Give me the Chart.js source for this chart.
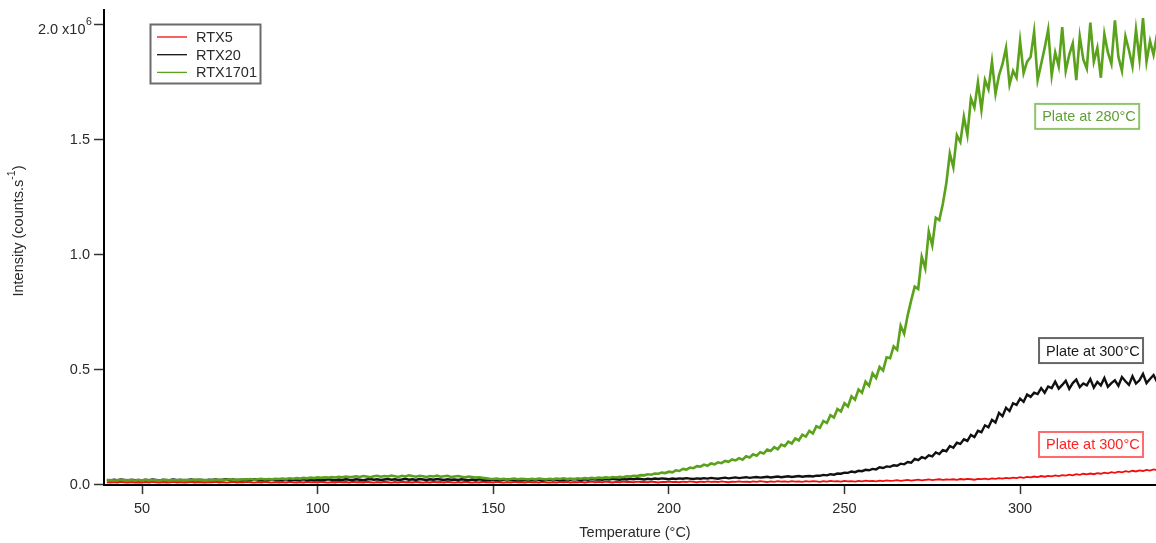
<!DOCTYPE html>
<html>
<head>
<meta charset="utf-8">
<title>Intensity vs temperature</title>
<script src="https://cdn.jsdelivr.net/npm/chart.js@4/dist/chart.umd.min.js"></script>
<style>
  html, body { margin: 0; padding: 0; background: #fff; }
  #wrap { width: 1156px; height: 543px; }
</style>
</head>
<body>
<div id="wrap"><canvas id="tempChart" width="1156" height="543"></canvas></div>
<script>
// === DATA ===
// intensity in 10^6 counts/s, one reading per °C starting at 40 °C
const T_START = 40;
const T_STEP = 1;
const seriesNames = ['RTX5', 'RTX20', 'RTX1701'];

const rtx5 = [
  .008,.006,.009,.007,.010,.008,.006,.009,.007,.008,
  .006,.009,.007,.010,.008,.006,.009,.007,.008,.010,
  .007,.009,.006,.008,.010,.007,.009,.008,.006,.009,
  .008,.010,.007,.009,.006,.008,.010,.007,.009,.008,
  .010,.008,.006,.009,.007,.010,.008,.006,.009,.007,
  .009,.007,.010,.008,.006,.009,.007,.010,.008,.009,
  .007,.010,.008,.006,.009,.007,.010,.008,.009,.007,
  .010,.008,.009,.007,.010,.008,.006,.009,.007,.010,
  .008,.006,.009,.007,.010,.008,.009,.007,.010,.008,
  .006,.009,.007,.010,.008,.009,.007,.010,.008,.006,
  .009,.007,.010,.008,.006,.009,.007,.010,.008,.009,
  .007,.010,.008,.006,.009,.007,.010,.008,.009,.007,
  .010,.008,.009,.007,.010,.008,.006,.009,.007,.010,
  .008,.010,.007,.009,.008,.010,.007,.009,.011,.008,
  .010,.008,.011,.009,.007,.010,.008,.011,.009,.010,
  .008,.011,.009,.010,.008,.011,.009,.007,.010,.009,
  .011,.009,.010,.008,.011,.009,.012,.010,.008,.011,
  .009,.012,.010,.011,.009,.012,.010,.008,.011,.010,
  .012,.010,.011,.009,.012,.010,.013,.011,.009,.012,
  .010,.013,.011,.012,.010,.013,.011,.012,.010,.013,
  .011,.013,.012,.010,.013,.011,.014,.012,.013,.011,
  .014,.012,.013,.011,.014,.012,.015,.013,.014,.012,
  .015,.013,.016,.014,.015,.017,.014,.016,.018,.015,
  .017,.019,.016,.018,.020,.017,.019,.021,.018,.020,
  .019,.021,.018,.022,.020,.023,.021,.019,.023,.022,
  .024,.021,.025,.023,.026,.024,.027,.025,.028,.026,
  .030,.027,.031,.029,.033,.030,.035,.032,.036,.034,
  .038,.035,.039,.037,.041,.038,.043,.040,.045,.042,
  .046,.043,.048,.045,.050,.047,.052,.049,.054,.051,
  .056,.053,.058,.055,.060,.057,.062,.059,.064,.061
];

const rtx20 = [
  .018,.016,.019,.017,.020,.018,.016,.019,.017,.018,
  .016,.019,.017,.020,.018,.016,.019,.017,.018,.020,
  .017,.019,.016,.018,.020,.017,.019,.018,.016,.019,
  .018,.020,.017,.019,.021,.018,.020,.017,.019,.018,
  .020,.018,.021,.019,.017,.020,.018,.021,.019,.017,
  .019,.021,.018,.020,.017,.019,.021,.018,.020,.019,
  .017,.020,.018,.021,.019,.017,.020,.018,.021,.019,
  .018,.021,.019,.017,.020,.022,.019,.021,.018,.020,
  .022,.019,.021,.018,.020,.023,.019,.021,.018,.022,
  .020,.018,.021,.019,.022,.020,.018,.021,.019,.020,
  .018,.021,.019,.017,.020,.018,.021,.019,.017,.020,
  .018,.020,.017,.019,.021,.018,.020,.017,.019,.018,
  .020,.018,.021,.019,.017,.020,.018,.021,.019,.020,
  .018,.021,.019,.022,.020,.018,.021,.019,.022,.020,
  .021,.019,.022,.020,.023,.021,.019,.022,.020,.023,
  .021,.024,.022,.020,.023,.021,.024,.022,.025,.023,
  .021,.024,.022,.025,.023,.026,.024,.022,.025,.023,
  .026,.024,.027,.025,.023,.026,.028,.025,.027,.029,
  .026,.028,.030,.027,.029,.031,.028,.030,.032,.029,
  .031,.033,.030,.032,.034,.031,.033,.035,.032,.034,
  .035,.033,.037,.036,.040,.038,.043,.041,.046,.045,
  .050,.049,.055,.052,.058,.056,.062,.060,.066,.064,
  .073,.070,.077,.075,.082,.080,.089,.086,.096,.093,
  .110,.104,.117,.112,.125,.121,.138,.131,.148,.143,
  .166,.158,.180,.175,.195,.188,.214,.205,.232,.226,
  .256,.247,.280,.268,.310,.296,.332,.318,.352,.345,
  .372,.358,.390,.380,.398,.392,.418,.398,.425,.418,
  .446,.416,.432,.450,.415,.440,.455,.422,.438,.430,
  .458,.420,.445,.430,.462,.424,.440,.452,.428,.466,
  .448,.432,.470,.438,.452,.480,.440,.458,.475,.445
];

const rtx1701 = [
  .016,.018,.015,.017,.019,.016,.018,.017,.015,.018,
  .017,.019,.016,.018,.017,.015,.018,.019,.016,.017,
  .018,.016,.019,.017,.018,.020,.017,.019,.018,.016,
  .019,.018,.020,.017,.019,.021,.018,.020,.019,.021,
  .020,.022,.019,.021,.023,.020,.022,.021,.023,.022,
  .024,.022,.025,.023,.026,.024,.027,.025,.028,.026,
  .029,.027,.030,.028,.031,.029,.032,.030,.033,.031,
  .032,.034,.031,.035,.033,.030,.034,.036,.032,.035,
  .033,.037,.034,.031,.036,.033,.038,.035,.032,.036,
  .034,.031,.035,.033,.037,.032,.034,.036,.031,.033,
  .035,.032,.030,.033,.031,.029,.030,.027,.025,.023,
  .022,.024,.021,.023,.020,.022,.024,.021,.023,.022,
  .020,.023,.021,.024,.022,.020,.023,.021,.024,.022,
  .025,.022,.024,.021,.025,.023,.026,.024,.027,.025,
  .028,.026,.029,.027,.031,.029,.032,.030,.034,.033,
  .036,.035,.039,.038,.043,.041,.046,.045,.050,.048,
  .054,.051,.060,.057,.066,.063,.072,.069,.078,.076,
  .085,.080,.090,.086,.095,.091,.101,.097,.107,.103,
  .113,.106,.121,.116,.130,.124,.139,.133,.150,.144,
  .161,.152,.172,.165,.185,.177,.199,.190,.215,.207,
  .232,.220,.252,.245,.275,.266,.300,.290,.327,.316,
  .352,.338,.382,.368,.412,.398,.446,.428,.482,.462,
  .510,.495,.552,.548,.600,.585,.690,.655,.735,.800,
  .860,.850,.990,.940,1.10,1.04,1.16,1.15,1.22,1.31,
  1.44,1.38,1.52,1.49,1.60,1.52,1.68,1.64,1.75,1.63,
  1.76,1.72,1.84,1.70,1.78,1.83,1.90,1.74,1.80,1.77,
  1.93,1.79,1.84,1.86,1.97,1.76,1.83,1.90,1.98,1.78,
  1.88,1.82,1.99,1.80,1.87,1.92,1.76,1.95,1.85,1.81,
  2.01,1.84,1.90,1.77,1.96,1.88,1.83,2.02,1.86,1.80,
  1.95,1.89,1.82,1.98,1.85,2.03,1.84,1.93,1.87,1.96
];

const xTickValues = [50, 100, 150, 200, 250, 300];
const yTickValues = [0, 0.5, 1.0, 1.5, 2.0];
const yTickLabels = ['0.0', '0.5', '1.0', '1.5', '2.0 x10^6'];   // ^ marks a superscript
const plateNotes = ['Plate at 280°C', 'Plate at 300°C', 'Plate at 300°C'];

// === STYLE ===
const FONT = '"Liberation Sans", Arial, sans-serif';
const TXT = '#2a2a2a';
const lineColors = ['#f20d0d', '#111111', '#5aa21c'];
const lineWidths = [1.8, 2.4, 2.6];
// label boxes: top-left corner in data units (°C, 10^6 counts/s), one per note
const noteStyle = [
  { at: [304.3, 1.656], text: '#5e9f38', border: '#8fc46d' },
  { at: [305.4, 0.636], text: '#1a1a1a', border: '#666666' },
  { at: [305.4, 0.227], text: '#ff2323', border: '#ff6a6a' }
];

// turn a value list into {x,y} points on the temperature axis
function toPoints(values) {
  return values.map((v, i) => ({ x: T_START + i * T_STEP, y: v }));
}

const seriesValues = [rtx5, rtx20, rtx1701];

// === OVERLAY: y tick labels, axis titles, legend box, plate labels ===
const overlayPlugin = {
  id: 'overlay',
  afterDraw(chart) {
    const ctx = chart.ctx;
    const area = chart.chartArea;
    const xs = chart.scales.x, ys = chart.scales.y;
    const big = '14.5px ' + FONT, small = '10.5px ' + FONT;
    ctx.save();
    ctx.font = big;
    ctx.fillStyle = TXT;
    ctx.textBaseline = 'middle';

    // y tick labels (with superscript exponent on the top one)
    ctx.textAlign = 'right';
    yTickValues.forEach((v, i) => {
      const py = ys.getPixelForValue(v);
      const [base, exp] = yTickLabels[i].split('^');
      if (exp) {
        ctx.font = small;
        ctx.textAlign = 'left';
        ctx.fillText(exp, 86, py - 3);
        ctx.font = big;
        ctx.textAlign = 'right';
        ctx.fillText(base, 85.5, py + 5);
      } else {
        ctx.fillText(base, 90, py + 0.5);
      }
    });

    // axis titles
    ctx.textAlign = 'center';
    ctx.fillText('Temperature (°C)', (area.left + area.right) / 2 + 5, 533);
    ctx.save();
    ctx.translate(19, 231);
    ctx.rotate(-Math.PI / 2);
    const parts = ['Intensity (counts.s', '-1', ')'];
    ctx.font = big;
    const w0 = ctx.measureText(parts[0]).width, w2 = ctx.measureText(parts[2]).width;
    ctx.font = small;
    const w1 = ctx.measureText(parts[1]).width;
    let cx = -(w0 + w1 + w2) / 2;
    ctx.textAlign = 'left';
    ctx.font = big;
    ctx.fillText(parts[0], cx, 0);
    ctx.font = small;
    ctx.fillText(parts[1], cx + w0, -7);
    ctx.font = big;
    ctx.fillText(parts[2], cx + w0 + w1, 0);
    ctx.restore();

    // legend
    ctx.textAlign = 'left';
    ctx.fillStyle = '#fff';
    ctx.fillRect(150.5, 24.5, 110, 59);
    ctx.strokeStyle = '#6b6b6b';
    ctx.lineWidth = 2;
    ctx.strokeRect(150.5, 24.5, 110, 59);
    seriesNames.forEach((name, i) => {
      const yy = 37 + i * 17.7;
      ctx.strokeStyle = lineColors[i];
      ctx.lineWidth = 1.3;
      ctx.beginPath();
      ctx.moveTo(157, yy);
      ctx.lineTo(187, yy);
      ctx.stroke();
      ctx.fillStyle = TXT;
      ctx.fillText(name, 196, yy + 1);
    });

    // plate labels
    plateNotes.forEach((txt, i) => {
      const st = noteStyle[i];
      const left = xs.getPixelForValue(st.at[0]);
      const top = ys.getPixelForValue(st.at[1]);
      const w = 104, h = 25;
      ctx.fillStyle = '#fff';
      ctx.fillRect(left, top, w, h);
      ctx.strokeStyle = st.border;
      ctx.lineWidth = 2;
      ctx.strokeRect(left, top, w, h);
      ctx.save();
      ctx.beginPath();
      ctx.rect(left, top, w - 1, h);
      ctx.clip();
      ctx.fillStyle = st.text;
      ctx.fillText(txt, left + 7, top + h / 2 + 1);
      ctx.restore();
    });
    ctx.restore();
  }
};

// === CHART ===
const ctx = document.getElementById('tempChart').getContext('2d');
const tempChart = new Chart(ctx, {
  type: 'line',
  data: {
    datasets: seriesNames.map((name, i) => ({
      label: name,
      data: toPoints(seriesValues[i]),
      borderColor: lineColors[i],
      borderWidth: lineWidths[i],
      pointRadius: 0,
      tension: 0,
      fill: false,
      order: 2 - i
    }))
  },
  options: {
    responsive: false,
    animation: false,
    events: [],
    layout: { padding: { top: 10, right: 0, left: 0, bottom: 0 } },
    plugins: { legend: { display: false }, tooltip: { enabled: false } },
    scales: {
      x: {
        type: 'linear',
        min: 39.18,
        max: 338.7,
        afterBuildTicks: s => { s.ticks = xTickValues.map(v => ({ value: v })); },
        afterFit: s => { s.height = 58; },
        border: { display: true, color: '#000', width: 2 },
        grid: { drawOnChartArea: false, drawTicks: true, tickLength: 9, tickColor: '#333', tickWidth: 1.5 },
        ticks: { color: TXT, padding: 6, maxRotation: 0, font: { family: FONT, size: 14.5 } }
      },
      y: {
        type: 'linear',
        min: -0.004,
        max: 2.065,
        afterBuildTicks: s => { s.ticks = yTickValues.map(v => ({ value: v })); },
        afterFit: s => { s.width = 104; },
        border: { display: true, color: '#000', width: 2 },
        grid: { drawOnChartArea: false, drawTicks: true, tickLength: 10, tickColor: '#333', tickWidth: 1.5 },
        ticks: { display: false }
      }
    }
  },
  plugins: [overlayPlugin]
});
</script>
</body>
</html>
